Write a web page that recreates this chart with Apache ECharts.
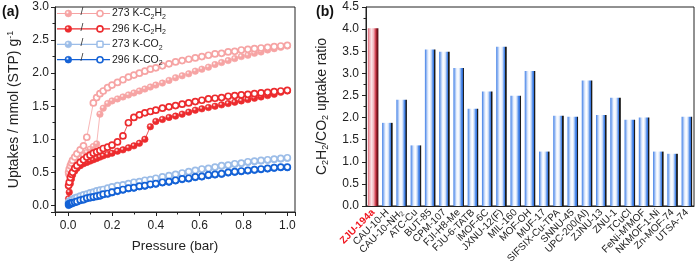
<!DOCTYPE html>
<html><head><meta charset="utf-8">
<script src="https://cdn.jsdelivr.net/npm/echarts@6/dist/echarts.min.js"></script>
<style>html,body{margin:0;padding:0;background:#fff}#c{width:700px;height:266px}</style>
</head><body><div id="c"></div>
<script>
// ---- Panel (a) data: pressure (bar) and uptakes (mmol/g) ----
const P = [0.002,0.005,0.01,0.015,0.02,0.03,0.04,0.055,0.07,0.085,0.1,0.115,0.13,0.145,0.16,0.18,0.2,0.225,0.25,0.275,0.3,0.325,0.35,0.375,0.4,0.43,0.46,0.49,0.52,0.55,0.58,0.61,0.64,0.67,0.7,0.73,0.76,0.79,0.82,0.85,0.88,0.91,0.94,0.97,1.0];
const ads273C2H2 = [0.47,0.5,0.55,0.58,0.6,0.64,0.67,0.71,0.75,0.8,0.85,0.89,0.93,1.38,1.47,1.54,1.58,1.61,1.64,1.67,1.7,1.73,1.76,1.79,1.82,1.85,1.89,1.93,1.96,1.99,2.03,2.06,2.09,2.13,2.16,2.19,2.22,2.25,2.27,2.3,2.32,2.35,2.37,2.39,2.41];
const des273C2H2 = [0.5,0.55,0.6,0.64,0.68,0.73,0.78,0.84,0.9,1.03,null,1.55,1.63,1.69,1.73,1.78,1.82,1.86,1.9,1.94,1.97,2.0,2.03,2.06,2.08,2.11,2.14,2.17,2.19,2.21,2.23,2.25,2.27,2.29,2.3,2.32,2.33,2.35,2.36,2.37,2.38,2.39,2.4,2.41,2.42];
const ads296C2H2 = [0.1,0.2,0.33,0.4,0.46,0.52,0.56,0.6,0.63,0.65,0.67,0.69,0.71,0.73,0.75,0.77,0.79,0.82,0.84,0.87,0.9,0.94,1.0,1.19,1.27,1.3,1.33,1.35,1.38,1.41,1.44,1.46,1.48,1.5,1.52,1.54,1.56,1.58,1.6,1.62,1.64,1.66,1.68,1.71,1.73];
const des296C2H2 = [0.3,0.35,0.42,0.47,0.5,0.56,0.6,0.65,0.69,0.73,0.76,0.79,0.81,0.83,0.86,0.88,0.91,0.96,1.05,1.25,1.33,1.37,1.4,1.42,1.44,1.47,1.49,1.51,1.53,1.55,1.57,1.59,1.61,1.62,1.63,1.65,1.66,1.67,1.68,1.69,1.7,1.71,1.72,1.73,1.74];
const ads273CO2 = [0.02,0.03,0.04,0.05,0.06,0.08,0.09,0.11,0.13,0.15,0.17,0.18,0.2,0.21,0.22,0.24,0.26,0.28,0.3,0.32,0.33,0.35,0.37,0.38,0.4,0.42,0.44,0.46,0.48,0.5,0.52,0.54,0.55,0.57,0.59,0.6,0.62,0.63,0.65,0.66,0.67,0.68,0.69,0.7,0.71];
const des273CO2 = [0.05,0.06,0.07,0.08,0.09,0.11,0.12,0.14,0.16,0.17,0.19,0.2,0.22,0.23,0.24,0.26,0.28,0.3,0.31,0.33,0.35,0.36,0.38,0.39,0.41,0.43,0.45,0.47,0.49,0.51,0.53,0.55,0.56,0.58,0.6,0.61,0.63,0.64,0.66,0.67,0.68,0.69,0.7,0.71,0.72];
const ads296CO2 = [0.0,0.01,0.02,0.02,0.03,0.04,0.05,0.07,0.08,0.1,0.11,0.12,0.13,0.14,0.16,0.17,0.19,0.21,0.23,0.25,0.26,0.28,0.29,0.31,0.32,0.34,0.35,0.37,0.39,0.4,0.42,0.43,0.45,0.46,0.47,0.49,0.5,0.51,0.52,0.53,0.54,0.55,0.56,0.57,0.57];
const des296CO2 = [0.02,0.02,0.03,0.04,0.04,0.05,0.06,0.08,0.09,0.11,0.12,0.13,0.14,0.15,0.17,0.18,0.2,0.22,0.24,0.26,0.27,0.29,0.3,0.32,0.33,0.35,0.36,0.38,0.4,0.41,0.43,0.44,0.46,0.47,0.48,0.5,0.51,0.52,0.53,0.54,0.55,0.56,0.57,0.58,0.58];
const xTicksA = [0.0,0.2,0.4,0.6,0.8,1.0];

// ---- Panel (b) data ----
const mofs = ['ZJU-194a','CAU-10-H','CAU-10-NH2','ATC-Cu','BUT-85','CPM-107','FJI-H8-Me','FJU-6-TATB','iMOF-6C','JXNU-12(F)','MIL-160','MOF-OH','MUF-17','SIFSIX-Cu-TPA','SNNU-45','UPC-200(Al)','ZJNU-13','ZNU-1','TCuCl',"FeNi-M'MOF",'NKMOF-1-Ni','Zn-MOF-74','UTSA-74'];
const ratios = [4.02,1.88,2.4,1.37,3.54,3.49,3.12,2.2,2.59,3.6,2.49,3.05,1.23,2.04,2.02,2.84,2.06,2.45,1.95,2.0,1.23,1.18,2.02];

const FF = 'Liberation Sans, Arial, sans-serif';
const C = {p:'#f6a4a4', r:'#ec2b2e', lb:'#9cbde8', b:'#1462d6'};

function pts(vals){ const out=[]; P.forEach((p,i)=>{ if(vals[i]!=null) out.push([p,vals[i]]); }); return out; }
function ball(col){ return {type:'radial',x:0.38,y:0.35,r:0.75,colorStops:[{offset:0,color:'#ffffff'},{offset:0.3,color:col},{offset:1,color:col}]}; }
function filled(vals,col,z){ return {type:'line',xAxisIndex:0,yAxisIndex:0,data:pts(vals),symbol:'circle',symbolSize:6.5,showAllSymbol:true,z:z,
  lineStyle:{color:col,width:0.8},itemStyle:{color:ball(col),borderColor:col,borderWidth:0.6}}; }
function open(vals,col,z){ return {type:'line',xAxisIndex:0,yAxisIndex:0,data:pts(vals),symbol:'circle',symbolSize:6,showAllSymbol:true,z:z,
  lineStyle:{color:col,width:0.8},itemStyle:{color:'#fff',borderColor:col,borderWidth:1.7}}; }

const blueBar = {type:'linear',x:0,y:0,x2:1,y2:0,colorStops:[{offset:0,color:'#3a7be6'},{offset:0.12,color:'#86aef0'},{offset:0.3,color:'#eaf1fd'},{offset:0.45,color:'#ffffff'},{offset:0.6,color:'#cfdff9'},{offset:0.75,color:'#5590ec'},{offset:0.86,color:'#3472dc'},{offset:0.87,color:'#1a1a1a'},{offset:1,color:'#1a1a1a'}]};
const redBar = {type:'linear',x:0,y:0,x2:1,y2:0,colorStops:[{offset:0,color:'#d85a6a'},{offset:0.12,color:'#eea0aa'},{offset:0.35,color:'#fbe4e7'},{offset:0.55,color:'#f2b0b8'},{offset:0.75,color:'#cc3545'},{offset:0.86,color:'#7a1620'},{offset:1,color:'#5a0c12'}]};

const series = [
  filled(ads273C2H2,C.p,2), open(des273C2H2,C.p,3),
  filled(ads296C2H2,C.r,4), open(des296C2H2,C.r,5),
  filled(ads273CO2,C.lb,6), open(des273CO2,C.lb,7),
  filled(ads296CO2,C.b,8), open(des296CO2,C.b,9),
  {type:'bar',xAxisIndex:1,yAxisIndex:1,barWidth:'74%',
   data: ratios.map((v,i)=>({value:v,itemStyle:{color: i===0 ? redBar : blueBar}}))}
];

function legendRow(i,col,label,sq){
  const y = 13.5 + i*15.4;
  const els = [
    {type:'line',z:100,shape:{x1:57,y1:y,x2:110,y2:y},style:{stroke:col,lineWidth:1.2}},
    {type:'circle',z:101,shape:{cx:68.3,cy:y,r:3.4},style:{fill:ball(col),stroke:col,lineWidth:0.6}},
    {type:'text',z:101,x:80.5,y:y-6,style:{text:'/',font:'10px '+FF,fill:'#333'}},
  ];
  if(sq) els.push({type:'rect',z:101,shape:{x:97,y:y-3,width:6,height:6,r:1},style:{fill:'#fff',stroke:col,lineWidth:1.5}});
  else els.push({type:'circle',z:101,shape:{cx:100,cy:y,r:3},style:{fill:'#fff',stroke:col,lineWidth:1.6}});
  els.push({type:'text',z:101,x:112,y:y,style:{text:label,verticalAlign:'middle',fill:'#222',
    rich:{t:{fontSize:10.5,fontFamily:FF,fill:'#222',lineHeight:14},s:{fontSize:7,fontFamily:FF,fill:'#222',verticalAlign:'bottom',lineHeight:8}}}});
  return els;
}

const chart = echarts.init(document.getElementById('c'),null,{renderer:'canvas'});
chart.setOption({
  animation:false,
  grid:[
    {left:55,right:405,top:7,bottom:54,show:true,borderColor:'#222',borderWidth:1,backgroundColor:'transparent'},
    {left:366,right:6,top:7,bottom:52,show:true,borderColor:'#222',borderWidth:1,backgroundColor:'transparent'}
  ],
  xAxis:[
    {type:'value',gridIndex:0,min:-0.06,max:1.035,
     name:'Pressure (bar)',nameLocation:'middle',nameGap:27,nameTextStyle:{fontSize:13.5,fontFamily:FF,color:'#222'},
     axisLine:{onZero:false,lineStyle:{color:'#222'}},axisTick:{length:4,lineStyle:{color:'#222'}},
     minorTick:{show:true,splitNumber:2,length:2.5,lineStyle:{color:'#222'}},splitLine:{show:false},
     axisLabel:{fontSize:12,fontFamily:FF,color:'#222',margin:8,showMinLabel:false,showMaxLabel:false,
       formatter:v=>{const t=xTicksA.find(x=>Math.abs(x-v)<1e-6); return t===undefined?'':t.toFixed(1);}}},
    {type:'category',gridIndex:1,data:mofs,
     axisLine:{lineStyle:{color:'#222'}},axisTick:{show:false},
     axisLabel:{interval:0,rotate:45,margin:5,fontSize:10,fontFamily:FF,color:'#222',
       formatter:(v,i)=> i===0 ? '{r|'+v+'}' : (v==='CAU-10-NH2' ? '{n|CAU-10-NH}{s|2}' : '{n|'+v+'}'),
       rich:{r:{color:'#f0141e',fontWeight:'bold',fontSize:10,fontFamily:FF},n:{fontSize:10,fontFamily:FF,color:'#222',lineHeight:12},s:{fontSize:7,fontFamily:FF,color:'#222',verticalAlign:'bottom',lineHeight:8}}}}
  ],
  yAxis:[
    {type:'value',gridIndex:0,min:-0.1,max:3.0,
     name:'{a|Uptakes / mmol (STP) g}{sup|-1}',nameLocation:'middle',nameRotate:90,nameGap:33,
     nameTextStyle:{rich:{a:{fontSize:14,fontFamily:FF,color:'#222',lineHeight:16},sup:{fontSize:9,fontFamily:FF,color:'#222',verticalAlign:'top',lineHeight:9}}},
     axisLine:{show:true,onZero:false,lineStyle:{color:'#222'}},axisTick:{show:true,length:4,lineStyle:{color:'#222'}},
     minorTick:{show:true,splitNumber:2,length:2.5,lineStyle:{color:'#222'}},splitLine:{show:false},
     axisLabel:{fontSize:12,fontFamily:FF,color:'#222',margin:6,showMinLabel:false,
       formatter:v=> (Math.abs(v/0.5-Math.round(v/0.5))<1e-6 && v>=-1e-9) ? v.toFixed(1) : ''}},
    {type:'value',gridIndex:1,min:0,max:4.5,interval:0.5,
     name:'{a|C}{s|2}{a|H}{s|2}{a|/CO}{s|2}{a| uptake ratio}',nameLocation:'middle',nameRotate:90,nameGap:36,
     nameTextStyle:{rich:{a:{fontSize:14,fontFamily:FF,color:'#222',lineHeight:16},s:{fontSize:9,fontFamily:FF,color:'#222',verticalAlign:'bottom',lineHeight:9}}},
     axisLine:{show:true,lineStyle:{color:'#222'}},axisTick:{show:true,length:4,lineStyle:{color:'#222'}},
     minorTick:{show:true,splitNumber:2,length:2.5,lineStyle:{color:'#222'}},splitLine:{show:false},
     axisLabel:{fontSize:12,fontFamily:FF,color:'#222',margin:7,formatter:v=>v.toFixed(1)}}
  ],
  graphic:[
    {type:'text',x:2,y:5,style:{text:'(a)',font:'bold 14px '+FF,fill:'#111'}},
    {type:'text',x:316,y:5,style:{text:'(b)',font:'bold 14px '+FF,fill:'#111'}},
    ...legendRow(0,C.p,'{t|273 K-C}{s|2}{t|H}{s|2}',false),
    ...legendRow(1,C.r,'{t|296 K-C}{s|2}{t|H}{s|2}',false),
    ...legendRow(2,C.lb,'{t|273 K-CO}{s|2}',true),
    ...legendRow(3,C.b,'{t|296 K-CO}{s|2}',false)
  ],
  series:series
});
</script></body></html>
